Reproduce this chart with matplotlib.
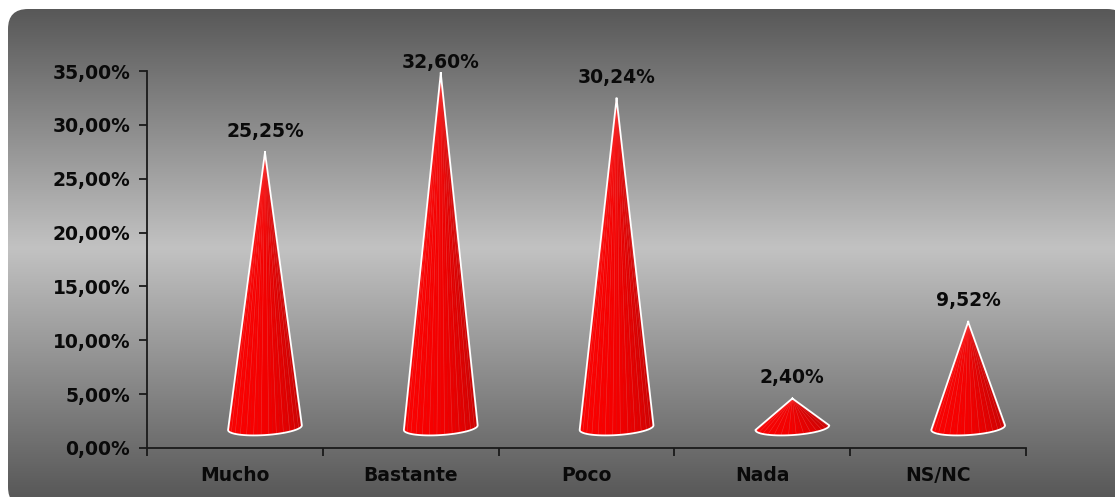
import numpy as np
import matplotlib
matplotlib.use('Agg')
from matplotlib import pyplot as plt
from matplotlib.patches import FancyBboxPatch, Polygon
from matplotlib.colors import LinearSegmentedColormap

plt.rcParams.update({
    "font.family": "DejaVu Sans",
    "font.size": 13.5,
    "font.weight": "bold",
})

categories = ['Mucho', 'Bastante', 'Poco', 'Nada', 'NS/NC']
values = [25.25, 32.60, 30.24, 2.40, 9.52]
value_labels = ['25,25%', '32,60%', '30,24%', '2,40%', '9,52%']
yticks = [0, 5, 10, 15, 20, 25, 30, 35]
ytick_labels = ['0,00%', '5,00%', '10,00%', '15,00%', '20,00%', '25,00%', '30,00%', '35,00%']

W, H = 1115, 497
fig = plt.figure(figsize=(W / 100, H / 100), dpi=100)
fig.patch.set_facecolor('white')

# background panel with grey gradient and rounded corners
bg = fig.add_axes([0, 0, 1, 1])
bg.set_xlim(0, W)
bg.set_ylim(H, 0)
bg.axis('off')
grad_cmap = LinearSegmentedColormap.from_list(
    'g', [(0, '#585858'), (0.48, '#c2c2c2'), (1, '#545454')])
grad = np.linspace(0, 1, 256).reshape(-1, 1)
im = bg.imshow(grad, cmap=grad_cmap, aspect='auto', extent=[8, W + 20, H + 10, 9])
panel = FancyBboxPatch((8, 9), W + 12 - 8, H + 1, boxstyle='round,pad=0,rounding_size=20',
                       transform=bg.transData, facecolor='none', edgecolor='none')
bg.add_patch(panel)
im.set_clip_path(panel)

# main axes
ax = fig.add_axes([147 / W, 1 - 448 / H, (1026 - 147) / W, (448 - 71) / H])
ax.set_facecolor('none')
ax.set_xlim(0, 5)
ax.set_ylim(0, 35)
for s in ['top', 'right']:
    ax.spines[s].set_visible(False)
for s in ['left', 'bottom']:
    ax.spines[s].set_color('#1a1a1a')
    ax.spines[s].set_linewidth(1.3)

ax.set_yticks(yticks)
ax.set_yticklabels(ytick_labels)
ax.set_xticks(range(6))
ax.set_xticklabels([])
ax.set_xticks([i + 0.5 for i in range(5)], minor=True)
ax.set_xticklabels(categories, minor=True)
ax.tick_params(axis='x', which='major', length=6, width=1.3, color='#1a1a1a', direction='out')
ax.tick_params(axis='x', which='minor', length=0, pad=13, colors='#0a0a0a')
ax.tick_params(axis='y', length=6, width=1.3, color='#1a1a1a', pad=6, labelcolor='#0a0a0a')

# 3D-ish cones
dx = 0.171      # depth shift to the right
half_w = 0.21
y_base = 1.885
b = 0.685
tilt = 0.215
tip_extra = 2.2
n_fac = 30
cmap = LinearSegmentedColormap.from_list('r', ['#ff0000', '#f40000', '#c80000'])

for i, v in enumerate(values):
    cx = i + 0.5 + dx
    apex = (cx, v + tip_extra)
    t = np.linspace(np.pi, 2 * np.pi, n_fac + 1)
    bx = cx + half_w * np.cos(t)
    by = y_base + b * np.sin(t) + tilt * np.cos(t)
    for k in range(n_fac):
        col = cmap(k / (n_fac - 1))
        tri = Polygon([apex, (bx[k], by[k]), (bx[k + 1], by[k + 1])], closed=True,
                      facecolor=col, edgecolor=col, linewidth=0.3, zorder=3)
        ax.add_patch(tri)
    # faint facet stripes
    for k in range(2, n_fac, 2):
        ax.plot([apex[0], bx[k]], [apex[1], by[k]], color='#ff8080', lw=0.4,
                alpha=0.35, zorder=3.5)
    outline_x = np.concatenate([[apex[0]], bx, [apex[0]]])
    outline_y = np.concatenate([[apex[1]], by, [apex[1]]])
    ax.plot(outline_x, outline_y, color='white', lw=1.3, zorder=4, solid_joinstyle='round')
    ly = min(v + tip_extra + 1.95, 35.75)
    ax.text(cx, ly, value_labels[i], ha='center', va='center', color='#0a0a0a',
            fontsize=13.5, fontweight='bold', clip_on=False, zorder=5)

fig.savefig('out.png', dpi=100)
